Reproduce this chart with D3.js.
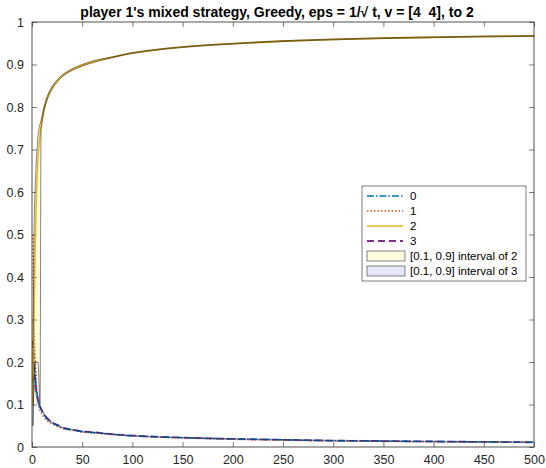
<!DOCTYPE html>
<html>
<head>
<meta charset="utf-8">
<script src="https://cdn.jsdelivr.net/npm/d3@7"></script>
<style>
  body { margin: 0; background: #fff; }
  svg text { font-family: "Liberation Sans", Arial, sans-serif; }
</style>
</head>
<body>
<svg id="chart" width="546" height="468"></svg>
<script>
// time steps (x)
const steps = [1,2,3,4,5,6,7,8,9,10,12,15,20,25,30,40,50,60,80,100,125,150,200,250,300,350,400,450,500];

// mean probability of each action
const s0 = [0.15,0.20,0.17,0.14,0.125,0.11,0.10,0.095,0.087,0.083,0.076,0.066,0.057,0.051,0.045,0.040,0.036,0.034,0.030,0.026,0.024,0.022,0.019,0.017,0.015,0.014,0.013,0.012,0.011];
const s1 = [0.50,0.30,0.22,0.17,0.13,0.11,0.095,0.085,0.080,0.077,0.070,0.062,0.054,0.049,0.044,0.039,0.035,0.033,0.029,0.026,0.023,0.021,0.018,0.016,0.014,0.013,0.012,0.012,0.011];
const s2 = [0.10,0.30,0.45,0.56,0.63,0.68,0.71,0.735,0.755,0.77,0.795,0.82,0.845,0.861,0.873,0.888,0.898,0.906,0.917,0.927,0.935,0.941,0.949,0.955,0.959,0.962,0.964,0.966,0.967];
const s3 = [0.25,0.20,0.16,0.135,0.12,0.11,0.10,0.095,0.09,0.085,0.078,0.068,0.058,0.052,0.046,0.041,0.037,0.035,0.030,0.027,0.024,0.022,0.019,0.017,0.015,0.014,0.013,0.012,0.011];

// [0.1, 0.9] quantile bands
const lo2 = [0.05,0.15,0.20,0.20,0.20,0.20,0.15,0.10,0.745,0.763,0.79,0.816,0.842,0.858,0.871,0.886,0.896,0.904,0.916,0.926,0.934,0.940,0.948,0.954,0.958,0.961,0.963,0.965,0.966];
const hi2 = [0.20,0.50,0.60,0.66,0.70,0.73,0.75,0.76,0.768,0.78,0.80,0.824,0.848,0.864,0.875,0.890,0.900,0.908,0.918,0.928,0.936,0.942,0.950,0.956,0.960,0.963,0.965,0.967,0.968];
const lo3 = [0.20,0.15,0.13,0.12,0.11,0.10,0.095,0.09,0.087,0.083,0.077,0.067,0.057,0.051,0.045,0.040,0.036,0.034,0.029,0.026,0.023,0.021,0.018,0.016,0.014,0.013,0.012,0.011,0.011];
const hi3 = [0.30,0.25,0.20,0.16,0.13,0.12,0.11,0.10,0.093,0.087,0.079,0.069,0.059,0.053,0.047,0.042,0.038,0.036,0.031,0.028,0.025,0.023,0.020,0.018,0.016,0.015,0.014,0.013,0.012];

const xTicks = [0,50,100,150,200,250,300,350,400,450,500];
const yTicks = [0,0.1,0.2,0.3,0.4,0.5,0.6,0.7,0.8,0.9,1];
const seriesNames = ["0","1","2","3"];
const bandNames = ["[0.1, 0.9] interval of 2","[0.1, 0.9] interval of 3"];

let svg = d3.select("svg#chart"),
margin = {top: 22, right: 12, bottom: 21, left: 32},
width = svg.attr("width") - margin.left - margin.right,
height = svg.attr("height") - margin.top - margin.bottom,
g = svg.append("g").attr("transform", `translate(${margin.left},${margin.top})`);

var x = d3.scaleLinear().domain([0, 500]).range([0, width]),
    y = d3.scaleLinear().domain([0, 1]).range([height, 0]);

const axisCol = "#262626";

svg.append("defs").append("clipPath").attr("id", "clip")
  .append("rect").attr("width", width).attr("height", height);

// title
svg.append("text")
  .attr("x", margin.left + width / 2 - 6).attr("y", 17)
  .attr("text-anchor", "middle")
  .style("font-size", "14px").style("font-weight", "bold")
  .attr("fill", "#000")
  .attr("xml:space", "preserve")
  .text("player 1's mixed strategy, Greedy, eps = 1/\u221A t, v = [4  4], to 2");

// axes, ticks pointing inward, box all round
g.append("g").attr("transform", `translate(0,${height})`)
  .call(d3.axisBottom(x).tickValues(xTicks).tickSizeInner(-5).tickSizeOuter(0).tickPadding(8))
  .call(a => a.select(".domain").remove());
g.append("g")
  .call(d3.axisTop(x).tickValues(xTicks).tickSizeInner(-5).tickSizeOuter(0).tickFormat(""))
  .call(a => a.select(".domain").remove());
g.append("g")
  .call(d3.axisLeft(y).tickValues(yTicks).tickSizeInner(-5).tickSizeOuter(0).tickPadding(8).tickFormat(d3.format("~g")))
  .call(a => a.select(".domain").remove());
g.append("g").attr("transform", `translate(${width},0)`)
  .call(d3.axisRight(y).tickValues(yTicks).tickSizeInner(-5).tickSizeOuter(0).tickFormat(""))
  .call(a => a.select(".domain").remove());
g.selectAll(".tick line").attr("stroke", axisCol).attr("stroke-width", 0.6);
g.selectAll(".tick text").attr("fill", axisCol).style("font-size", "12.5px");

let plot = g.append("g").attr("clip-path", "url(#clip)");

var line = d3.line().curve(d3.curveMonotoneX).x((d, i) => x(steps[i])).y(d => y(d));

const styles = [
  {data: s0, color: "#0072BD", dash: "7,2,1.5,2", w: 1.4},
  {data: s1, color: "#D95319", dash: "1.5,2", w: 1.4},
  {data: s2, color: "#EDB120", dash: null, w: 1.6},
  {data: s3, color: "#7E2F8E", dash: "7,4", w: 1.8}
];

var area = d3.area().curve(d3.curveMonotoneX)
  .x((d, i) => x(steps[i])).y0(d => y(d[0])).y1(d => y(d[1]));
const bands = [
  {lo: lo2, hi: hi2, fill: "#FFFF00", leg: "#FFFFE0", edge: 0.6},
  {lo: lo3, hi: hi3, fill: "#0000FF", leg: "#E6E6FA", edge: 0.4}
];

// draw 3 under the dash-dot / dotted ones, like the picture
[3, 1, 0].forEach(k => {
  plot.append("path").datum(styles[k].data)
    .attr("d", line).attr("fill", "none")
    .attr("stroke", styles[k].color).attr("stroke-width", styles[k].w)
    .attr("stroke-dasharray", styles[k].dash);
});
plot.append("path").datum(bands[1].lo.map((v, i) => [v, bands[1].hi[i]]))
  .attr("d", area).attr("fill", bands[1].fill).attr("fill-opacity", 0.12)
  .attr("stroke", "#000").attr("stroke-width", bands[1].edge).attr("stroke-opacity", 0.5);
plot.append("path").datum(s2)
  .attr("d", line).attr("fill", "none")
  .attr("stroke", styles[2].color).attr("stroke-width", styles[2].w);
plot.append("path").datum(bands[0].lo.map((v, i) => [v, bands[0].hi[i]]))
  .attr("d", area).attr("fill", bands[0].fill).attr("fill-opacity", 0.12)
  .attr("stroke", "#000").attr("stroke-width", bands[0].edge).attr("stroke-opacity", 0.8);

// plot frame
g.append("rect").attr("width", width).attr("height", height)
  .attr("fill", "none").attr("stroke", axisCol).attr("stroke-width", 0.8);

// legend
let leg = svg.append("g").attr("transform", "translate(362,186)");
leg.append("rect").attr("width", 164).attr("height", 95)
  .attr("fill", "#fff").attr("stroke", axisCol).attr("stroke-width", 0.6);
seriesNames.forEach((n, i) => {
  let yy = 10 + i * 15;
  leg.append("line").attr("x1", 5).attr("x2", 41).attr("y1", yy).attr("y2", yy)
    .attr("stroke", styles[i].color).attr("stroke-width", styles[i].w)
    .attr("stroke-dasharray", styles[i].dash);
  leg.append("text").attr("x", 48).attr("y", yy + 4)
    .style("font-size", "11.5px").attr("fill", "#000").text(n);
});
bandNames.forEach((n, i) => {
  let yy = 70 + i * 15;
  leg.append("rect").attr("x", 5).attr("y", yy - 5).attr("width", 38).attr("height", 10)
    .attr("fill", bands[i].leg).attr("stroke", "#333").attr("stroke-width", 0.6);
  leg.append("text").attr("x", 48).attr("y", yy + 4)
    .style("font-size", "11.5px").attr("fill", "#000").text(n);
});
</script>
</body>
</html>
